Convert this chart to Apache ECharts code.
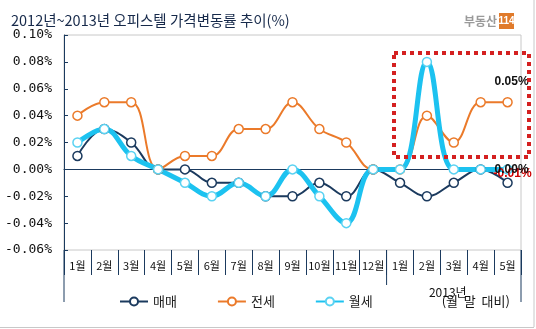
<!DOCTYPE html>
<html><head><meta charset="utf-8">
<script src="https://cdn.jsdelivr.net/npm/echarts@6/dist/echarts.min.js"></script>
<style>html,body{margin:0;padding:0;background:#fff}#c{width:536px;height:329px}</style>
</head><body><div id="c"></div>
<script>
const categories = ['1월','2월','3월','4월','5월','6월','7월','8월','9월','10월','11월','12월','1월','2월','3월','4월','5월'];
const seriesNames = ['매매','전세','월세'];
const maeMae = [0.01,0.03,0.02,0.00,0.00,-0.01,-0.01,-0.02,-0.02,-0.01,-0.02,0.00,-0.01,-0.02,-0.01,0.00,-0.01];
const jeonse = [0.04,0.05,0.05,0.00,0.01,0.01,0.03,0.03,0.05,0.03,0.02,0.00,0.00,0.04,0.02,0.05,0.05];
const wolse  = [0.02,0.03,0.01,0.00,-0.01,-0.02,-0.01,-0.02,0.00,-0.02,-0.04,0.00,0.00,0.08,0.00,0.00,0.00];
const yMin = -0.06, yMax = 0.10, yStep = 0.02;
const groupLabel = '2013년';
const groupNote = '(월  말  대비)';
const title = '2012년~2013년 오피스텔 가격변동률 추이(%)';

const NAVY = '#1b3a5e', ORANGE = '#eb7a2a', CYAN = '#1cc2f0';
const KR = '"Noto Sans CJK KR", sans-serif';

function withLastLabel(arr, label) {
  return arr.map((v, i) => i === arr.length - 1 ? { value: v, label: label } : v);
}
const lblFmt = p => p.value.toFixed(2) + '%';

const chart = echarts.init(document.getElementById('c'), null, { renderer: 'canvas' });
chart.setOption({
  animation: false,
  backgroundColor: '#fff',
  title: { text: title, left: 6, top: 8, textStyle: { fontFamily: KR, fontSize: 14.5, fontWeight: 'normal', color: '#16294a' } },
  grid: { left: 64, right: 15, top: 35, bottom: 79, show: true, borderColor: '#c8c8c8', borderWidth: 1, backgroundColor: '#fff' },
  legend: {
    left: 114, top: 290, itemWidth: 28, itemHeight: 10, itemGap: 40,
    textStyle: { fontFamily: KR, fontSize: 13, color: '#222' },
    data: seriesNames
  },
  xAxis: [
    { type: 'category', data: categories, position: 'bottom', boundaryGap: true,
      axisLine: { onZero: true, lineStyle: { color: NAVY, width: 1 } },
      axisTick: { inside: true, length: 4, interval: 0, lineStyle: { color: NAVY } },
      axisLabel: { show: false }, splitLine: { show: false } },
    { type: 'category', data: categories, position: 'bottom', boundaryGap: true,
      axisLine: { show: false, onZero: false },
      axisTick: { show: true, length: 25, interval: 0, lineStyle: { color: NAVY } },
      axisLabel: { interval: 0, margin: 10, fontFamily: KR, fontSize: 11, color: '#111' },
      splitLine: { show: false } }
  ],
  yAxis: {
    type: 'value', min: yMin, max: yMax, interval: yStep,
    axisLine: { show: true, lineStyle: { color: NAVY } },
    axisTick: { show: true, inside: true, length: 4, lineStyle: { color: NAVY } },
    axisLabel: { margin: 12, fontFamily: '"DejaVu Sans Mono", monospace', fontSize: 13, color: '#111',
      formatter: v => v.toFixed(2) + '%' },
    splitLine: { show: false }
  },
  series: [
    { name: seriesNames[0], type: 'line', xAxisIndex: 0, smooth: 0.4, data: withLastLabel(maeMae, {
        show: true, position: 'inside', offset: [5, -9], formatter: lblFmt,
        fontFamily: '"Liberation Sans", sans-serif', fontWeight: 'bold', fontSize: 12, color: '#cc0000' }),
      symbol: 'circle', symbolSize: 9, showAllSymbol: true,
      lineStyle: { color: NAVY, width: 2 }, itemStyle: { color: '#fff', borderColor: NAVY, borderWidth: 1.5 } },
    { name: seriesNames[1], type: 'line', xAxisIndex: 0, smooth: 0.4, data: withLastLabel(jeonse, {
        show: true, position: 'top', distance: 9, offset: [4, 0], formatter: lblFmt,
        fontFamily: '"Liberation Sans", sans-serif', fontWeight: 'bold', fontSize: 12, color: '#111' }),
      symbol: 'circle', symbolSize: 9, showAllSymbol: true,
      lineStyle: { color: ORANGE, width: 2 }, itemStyle: { color: '#fff', borderColor: ORANGE, borderWidth: 1.5 } },
    { name: seriesNames[2], type: 'line', xAxisIndex: 0, smooth: 0.4, data: withLastLabel(wolse, {
        show: true, position: 'inside', offset: [4, 0], formatter: lblFmt,
        fontFamily: '"Liberation Sans", sans-serif', fontWeight: 'bold', fontSize: 12, color: '#111' }),
      symbol: 'circle', symbolSize: 9, showAllSymbol: true,
      lineStyle: { color: CYAN, width: 5 }, itemStyle: { color: '#fff', borderColor: '#5ad2f2', borderWidth: 1.5 } }
  ]
});

// Group dividers and labels placed through the axis scale
const p0 = chart.convertToPixel({ xAxisIndex: 1 }, 0);
const p1 = chart.convertToPixel({ xAxisIndex: 1 }, 1);
const band = p1 - p0;
const edge = i => chart.convertToPixel({ xAxisIndex: 1 }, Math.min(i, categories.length - 1)) + (i >= categories.length ? band / 2 : -band / 2);
const yBottom = chart.convertToPixel({ yAxisIndex: 0 }, yMin);
const xStart = edge(0), xSplit = edge(12), xEnd = edge(categories.length);
const groupCenter = (xSplit + xEnd) / 2;

chart.setOption({
  graphic: [
    { type: 'line', shape: { x1: xStart, y1: yBottom, x2: xStart, y2: yBottom + 52 }, style: { stroke: NAVY, lineWidth: 1 }, z: 10 },
    { type: 'line', shape: { x1: xSplit, y1: yBottom, x2: xSplit, y2: yBottom + 35 }, style: { stroke: NAVY, lineWidth: 1 }, z: 10 },
    { type: 'line', shape: { x1: xEnd, y1: yBottom, x2: xEnd, y2: yBottom + 52 }, style: { stroke: NAVY, lineWidth: 1 }, z: 10 },
    { type: 'text', x: groupCenter - 6, y: yBottom + 42, style: { text: groupLabel, font: '12px "Noto Sans CJK KR"', fill: '#111', textAlign: 'center', textVerticalAlign: 'middle' }, z: 10 },
    { type: 'text', x: groupCenter + 22, y: yBottom + 51, style: { text: groupNote, font: '13px "Noto Sans CJK KR"', fill: '#111', textAlign: 'center', textVerticalAlign: 'middle' }, z: 10 },
    // highlight annotation box
    { type: 'rect', shape: { x: 394, y: 53, width: 135, height: 104 }, style: { fill: 'none', stroke: '#d42020', lineWidth: 4, lineDash: [4, 4] }, z: 20 },
    // logo
    { type: 'text', x: 497, y: 21, style: { text: '부동산', font: 'bold 12px "Noto Sans CJK KR"', fill: '#9a9a9a', textAlign: 'right', textVerticalAlign: 'middle' }, z: 10 },
    { type: 'rect', shape: { x: 499, y: 13, width: 15, height: 16 }, style: { fill: '#e07a2a' }, z: 10 },
    { type: 'text', x: 506.5, y: 21, style: { text: '114', font: 'bold 10px "Liberation Sans Narrow", "Liberation Sans"', fill: '#fff', textAlign: 'center', textVerticalAlign: 'middle' }, z: 11 },
    // outer frame
    { type: 'line', shape: { x1: 534, y1: 0, x2: 534, y2: 327 }, style: { stroke: '#c8c8c8', lineWidth: 1 }, z: 10 },
    { type: 'line', shape: { x1: 0, y1: 327.5, x2: 534, y2: 327.5 }, style: { stroke: '#c8c8c8', lineWidth: 1 }, z: 10 }
  ]
});
</script></body></html>
